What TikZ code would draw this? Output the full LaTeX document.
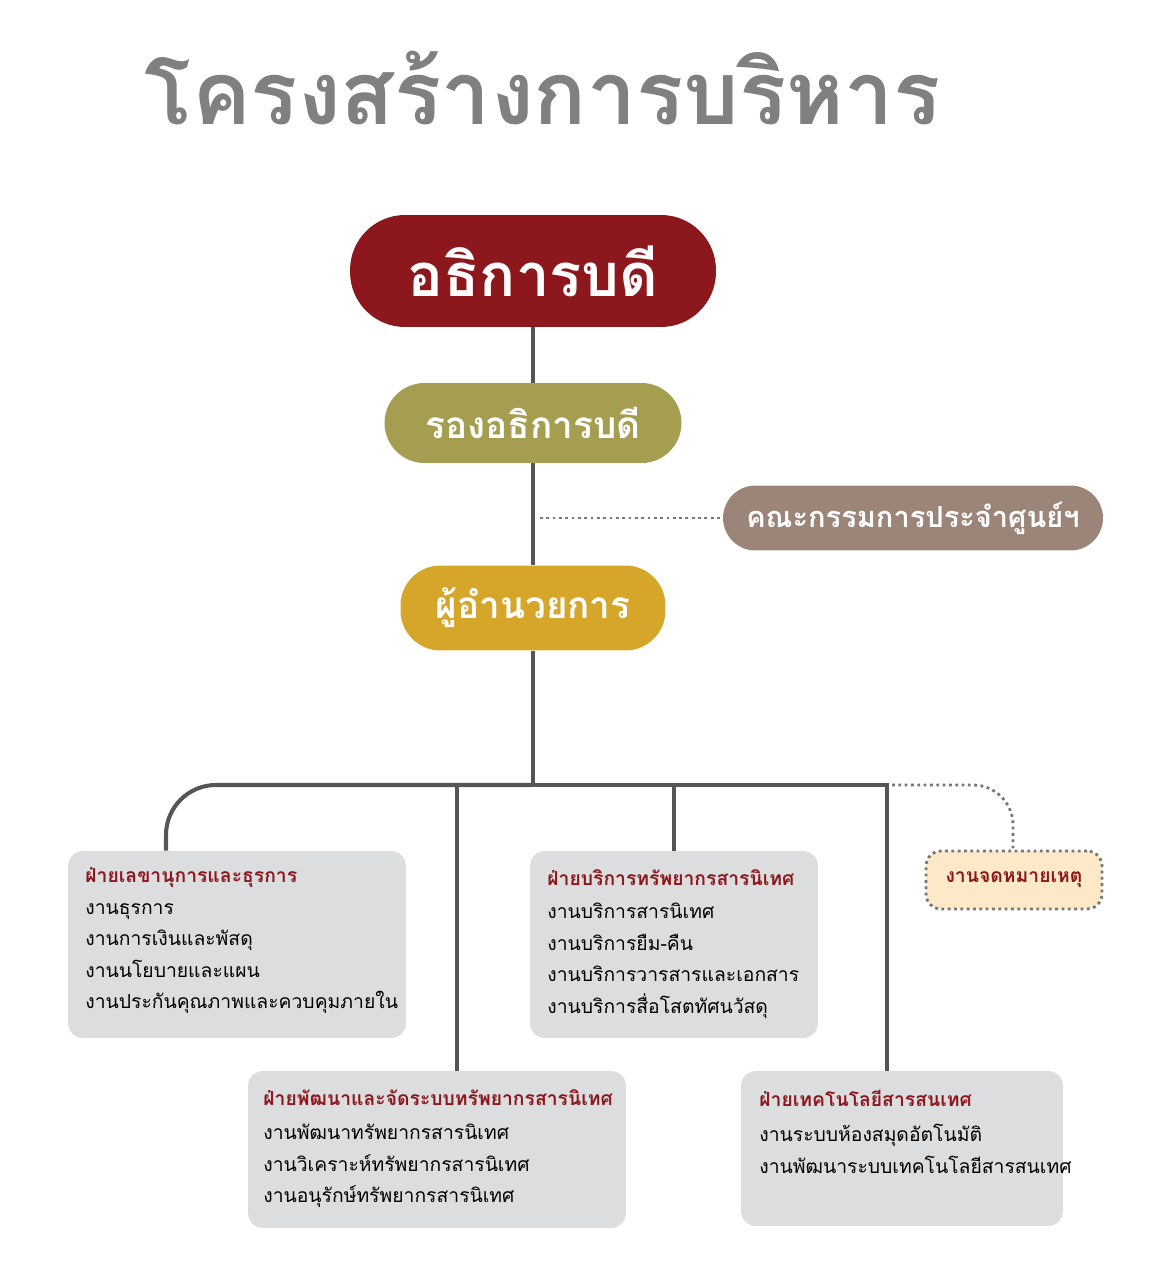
\documentclass[tikz,border=0pt]{standalone}
\usepackage{fontspec}
\newfontfamily\thai[Script=Thai]{Loma}
\usetikzlibrary{positioning}
\definecolor{chief}{RGB}{140,24,29}
\definecolor{olive}{RGB}{165,158,80}
\definecolor{taupe}{RGB}{155,133,120}
\definecolor{gold}{RGB}{214,166,42}
\definecolor{panel}{RGB}{220,221,223}
\definecolor{note}{RGB}{253,232,200}
\definecolor{wire}{RGB}{85,85,85}
\definecolor{title}{RGB}{128,128,130}
\tikzset{
  head/.style={rounded corners=0.8cm,text=white,font=\thai\bfseries,inner sep=0pt},
  panelbox/.style={fill=panel,rounded corners=0.3cm},
  tag/.style={anchor=west,text=chief,font=\thai\bfseries\fontsize{11}{13}\selectfont,inner sep=0pt},
  item/.style={anchor=north west,align=left,font=\thai\fontsize{11}{17.9}\selectfont,inner sep=0pt},
  wireline/.style={draw=wire,line width=2.3pt},
  dotline/.style={draw=wire!80,line width=1.6pt,dotted}
}
\begin{document}
\begin{tikzpicture}[x=0.02cm,y=-0.02cm]
	\useasboundingbox (0,0) rectangle (1151,1266);

	\node[text=title,font=\thai\bfseries\fontsize{50}{58}\selectfont] (heading) at (543,88) {โครงสร้างการบริหาร};

	\node[head,fill=chief,minimum width=7.32cm,minimum height=2.24cm,rounded corners=1.1cm,font=\thai\bfseries\fontsize{34}{40}\selectfont] (rector) at (533,271) {อธิการบดี};
	\node[head,fill=olive,minimum width=5.94cm,minimum height=1.6cm,font=\thai\bfseries\fontsize{21}{26}\selectfont] (vice) at (533,423) {รองอธิการบดี};
	\node[head,fill=taupe,minimum width=7.6cm,minimum height=1.3cm,rounded corners=0.65cm,font=\thai\bfseries\fontsize{16.5}{20}\selectfont] (board) at (913,518) {คณะกรรมการประจำศูนย์ฯ};
	\node[head,fill=gold,minimum width=5.3cm,minimum height=1.7cm,font=\thai\bfseries\fontsize{21}{26}\selectfont] (director) at (533,608) {ผู้อำนวยการ};

	% divisions
	\node[panelbox,minimum width=6.76cm,minimum height=3.74cm] (secr) at (237,944.5) {};
	\node[panelbox,minimum width=5.76cm,minimum height=3.74cm] (serv) at (674,944.5) {};
	\node[panelbox,minimum width=7.56cm,minimum height=3.14cm] (devl) at (437,1149.5) {};
	\node[panelbox,minimum width=6.44cm,minimum height=3.1cm] (tech) at (902,1148.5) {};
	\node[fill=note,draw=wire!80,dotted,line width=1.6pt,rounded corners=0.3cm,minimum width=3.52cm,minimum height=1.16cm,text=chief,font=\thai\bfseries\fontsize{11}{13}\selectfont] (arch) at (1014,880) {งานจดหมายเหตุ};

	\node[tag] at (85,878) {ฝ่ายเลขานุการและธุรการ};
	\node[item] at (85,903) {งานธุรการ\\งานการเงินและพัสดุ\\งานนโยบายและแผน\\งานประกันคุณภาพและควบคุมภายใน};
	\node[tag] at (547,878) {ฝ่ายบริการทรัพยากรสารนิเทศ};
	\node[item] at (547,903) {งานบริการสารนิเทศ\\งานบริการยืม-คืน\\งานบริการวารสารและเอกสาร\\งานบริการสื่อโสตทัศนวัสดุ};
	\node[tag] at (263,1098) {ฝ่ายพัฒนาและจัดระบบทรัพยากรสารนิเทศ};
	\node[item] at (263,1124) {งานพัฒนาทรัพยากรสารนิเทศ\\งานวิเคราะห์ทรัพยากรสารนิเทศ\\งานอนุรักษ์ทรัพยากรสารนิเทศ};
	\node[tag] at (759,1098) {ฝ่ายเทคโนโลยีสารสนเทศ};
	\node[item] at (759,1124) {งานระบบห้องสมุดอัตโนมัติ\\งานพัฒนาระบบเทคโนโลยีสารสนเทศ};

	% connectors
	\coordinate (hub) at (533,785);
	\coordinate (tap) at (540,518);
	\draw[wireline] (rector) -- (vice);
	\draw[wireline] (vice) -- (director);
	\draw[wireline] (director) -- (hub);
	\draw[dotline] (tap) -- (board);
	\draw[wireline,rounded corners=1cm] (secr.north -| 166,0) -- (166,785) -- (hub);
	\draw[wireline] (hub) -- (887,785) -- (tech.north -| 887,0);
	\draw[wireline] (457,785) -- (devl.north -| 457,0);
	\draw[wireline] (674,785) -- (serv.north);
	\draw[dotline,rounded corners=0.8cm] (892,785) -- (1013,785) -- (arch.north -| 1013,0);
\end{tikzpicture}
\end{document}
